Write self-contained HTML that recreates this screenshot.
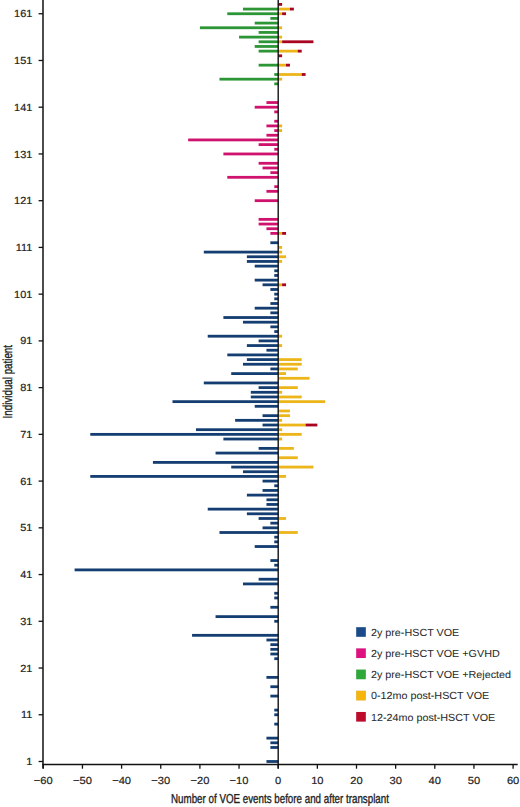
<!DOCTYPE html>
<html><head><meta charset="utf-8"><style>
html,body{margin:0;padding:0;background:#fff;}
body{width:520px;height:807px;overflow:hidden;}
svg{display:block;font-family:"Liberation Sans",sans-serif;text-rendering:geometricPrecision;}
.t{font-size:10.3px;fill:#222;stroke:#222;stroke-width:0.2px;}
.lg{stroke-width:0.05px;fill:#2a2a2a;stroke:#2a2a2a;}
.ttl{font-size:13px;fill:#222;stroke:#222;stroke-width:0.35px;}
</style></head><body>
<svg width="520" height="807" viewBox="0 0 520 807">
<rect width="520" height="807" fill="#fff"/>
<rect x="266.45" y="760.10" width="11.75" height="2.8" fill="#143d72"/><rect x="270.37" y="746.08" width="7.83" height="2.8" fill="#143d72"/><rect x="270.37" y="741.41" width="7.83" height="2.8" fill="#143d72"/><rect x="266.45" y="736.73" width="11.75" height="2.8" fill="#143d72"/><rect x="274.28" y="722.71" width="3.92" height="2.8" fill="#143d72"/><rect x="274.28" y="713.37" width="3.92" height="2.8" fill="#143d72"/><rect x="274.28" y="708.69" width="3.92" height="2.8" fill="#143d72"/><rect x="270.37" y="694.67" width="7.83" height="2.8" fill="#143d72"/><rect x="270.37" y="685.32" width="7.83" height="2.8" fill="#143d72"/><rect x="266.45" y="675.98" width="11.75" height="2.8" fill="#143d72"/><rect x="274.28" y="657.28" width="3.92" height="2.8" fill="#143d72"/><rect x="270.37" y="652.61" width="7.83" height="2.8" fill="#143d72"/><rect x="270.37" y="647.94" width="7.83" height="2.8" fill="#143d72"/><rect x="270.37" y="643.26" width="7.83" height="2.8" fill="#143d72"/><rect x="266.45" y="638.59" width="11.75" height="2.8" fill="#143d72"/><rect x="192.07" y="633.92" width="86.13" height="2.8" fill="#143d72"/><rect x="274.28" y="619.90" width="3.92" height="2.8" fill="#143d72"/><rect x="215.56" y="615.22" width="62.64" height="2.8" fill="#143d72"/><rect x="270.37" y="605.87" width="7.83" height="2.8" fill="#143d72"/><rect x="274.28" y="596.53" width="3.92" height="2.8" fill="#143d72"/><rect x="274.28" y="591.85" width="3.92" height="2.8" fill="#143d72"/><rect x="242.96" y="582.51" width="35.23" height="2.8" fill="#143d72"/><rect x="258.62" y="577.83" width="19.57" height="2.8" fill="#143d72"/><rect x="74.62" y="568.49" width="203.58" height="2.8" fill="#143d72"/><rect x="274.28" y="563.81" width="3.92" height="2.8" fill="#143d72"/><rect x="270.37" y="559.14" width="7.83" height="2.8" fill="#143d72"/><rect x="254.71" y="545.12" width="23.49" height="2.8" fill="#143d72"/><rect x="274.28" y="540.45" width="3.92" height="2.8" fill="#143d72"/><rect x="274.28" y="535.77" width="3.92" height="2.8" fill="#143d72"/><rect x="219.47" y="531.10" width="58.73" height="2.8" fill="#143d72"/><rect x="278.20" y="531.10" width="19.57" height="2.8" fill="#ecb51a"/><rect x="262.54" y="526.43" width="15.66" height="2.8" fill="#143d72"/><rect x="270.37" y="521.75" width="7.83" height="2.8" fill="#143d72"/><rect x="258.62" y="517.08" width="19.57" height="2.8" fill="#143d72"/><rect x="278.20" y="517.08" width="7.83" height="2.8" fill="#ecb51a"/><rect x="246.88" y="512.40" width="31.32" height="2.8" fill="#143d72"/><rect x="207.73" y="507.73" width="70.47" height="2.8" fill="#143d72"/><rect x="266.45" y="503.06" width="11.75" height="2.8" fill="#143d72"/><rect x="266.45" y="498.38" width="11.75" height="2.8" fill="#143d72"/><rect x="246.88" y="493.71" width="31.32" height="2.8" fill="#143d72"/><rect x="262.54" y="489.04" width="15.66" height="2.8" fill="#143d72"/><rect x="274.28" y="484.36" width="3.92" height="2.8" fill="#143d72"/><rect x="262.54" y="479.69" width="15.66" height="2.8" fill="#143d72"/><rect x="90.28" y="475.02" width="187.92" height="2.8" fill="#143d72"/><rect x="278.20" y="475.02" width="7.83" height="2.8" fill="#ecb51a"/><rect x="242.96" y="470.34" width="35.23" height="2.8" fill="#143d72"/><rect x="231.22" y="465.67" width="46.98" height="2.8" fill="#143d72"/><rect x="278.20" y="465.67" width="35.23" height="2.8" fill="#ecb51a"/><rect x="152.92" y="461.00" width="125.28" height="2.8" fill="#143d72"/><rect x="278.20" y="456.32" width="19.57" height="2.8" fill="#ecb51a"/><rect x="215.56" y="451.65" width="62.64" height="2.8" fill="#143d72"/><rect x="258.62" y="446.98" width="19.57" height="2.8" fill="#143d72"/><rect x="278.20" y="446.98" width="15.66" height="2.8" fill="#ecb51a"/><rect x="223.39" y="437.63" width="54.81" height="2.8" fill="#143d72"/><rect x="278.20" y="437.63" width="3.92" height="2.8" fill="#ecb51a"/><rect x="90.28" y="432.96" width="187.92" height="2.8" fill="#143d72"/><rect x="278.20" y="432.96" width="23.49" height="2.8" fill="#ecb51a"/><rect x="195.98" y="428.28" width="82.22" height="2.8" fill="#143d72"/><rect x="278.20" y="428.28" width="3.92" height="2.8" fill="#ecb51a"/><rect x="262.54" y="423.61" width="15.66" height="2.8" fill="#143d72"/><rect x="278.20" y="423.61" width="27.41" height="2.8" fill="#ecb51a"/><rect x="305.61" y="423.61" width="11.75" height="2.8" fill="#a8031f"/><rect x="235.13" y="418.93" width="43.06" height="2.8" fill="#143d72"/><rect x="278.20" y="418.93" width="3.92" height="2.8" fill="#ecb51a"/><rect x="262.54" y="414.26" width="15.66" height="2.8" fill="#143d72"/><rect x="278.20" y="414.26" width="11.75" height="2.8" fill="#ecb51a"/><rect x="278.20" y="409.59" width="11.75" height="2.8" fill="#ecb51a"/><rect x="254.71" y="404.91" width="23.49" height="2.8" fill="#143d72"/><rect x="172.50" y="400.24" width="105.70" height="2.8" fill="#143d72"/><rect x="278.20" y="400.24" width="46.98" height="2.8" fill="#ecb51a"/><rect x="250.79" y="395.57" width="27.41" height="2.8" fill="#143d72"/><rect x="278.20" y="395.57" width="23.49" height="2.8" fill="#ecb51a"/><rect x="250.79" y="390.89" width="27.41" height="2.8" fill="#143d72"/><rect x="278.20" y="390.89" width="3.92" height="2.8" fill="#ecb51a"/><rect x="258.62" y="386.22" width="19.57" height="2.8" fill="#143d72"/><rect x="278.20" y="386.22" width="19.57" height="2.8" fill="#ecb51a"/><rect x="203.81" y="381.55" width="74.39" height="2.8" fill="#143d72"/><rect x="278.20" y="376.87" width="31.32" height="2.8" fill="#ecb51a"/><rect x="231.22" y="372.20" width="46.98" height="2.8" fill="#143d72"/><rect x="278.20" y="372.20" width="7.83" height="2.8" fill="#ecb51a"/><rect x="270.37" y="367.53" width="7.83" height="2.8" fill="#143d72"/><rect x="278.20" y="367.53" width="19.57" height="2.8" fill="#ecb51a"/><rect x="242.96" y="362.85" width="35.23" height="2.8" fill="#143d72"/><rect x="278.20" y="362.85" width="23.49" height="2.8" fill="#ecb51a"/><rect x="246.88" y="358.18" width="31.32" height="2.8" fill="#143d72"/><rect x="278.20" y="358.18" width="23.49" height="2.8" fill="#ecb51a"/><rect x="227.30" y="353.51" width="50.90" height="2.8" fill="#143d72"/><rect x="266.45" y="348.83" width="11.75" height="2.8" fill="#143d72"/><rect x="246.88" y="344.16" width="31.32" height="2.8" fill="#143d72"/><rect x="278.20" y="344.16" width="3.92" height="2.8" fill="#ecb51a"/><rect x="258.62" y="339.49" width="19.57" height="2.8" fill="#143d72"/><rect x="207.73" y="334.81" width="70.47" height="2.8" fill="#143d72"/><rect x="278.20" y="334.81" width="3.92" height="2.8" fill="#ecb51a"/><rect x="274.28" y="330.14" width="3.92" height="2.8" fill="#143d72"/><rect x="270.37" y="325.46" width="7.83" height="2.8" fill="#143d72"/><rect x="242.96" y="320.79" width="35.23" height="2.8" fill="#143d72"/><rect x="223.39" y="316.12" width="54.81" height="2.8" fill="#143d72"/><rect x="270.37" y="311.44" width="7.83" height="2.8" fill="#143d72"/><rect x="254.71" y="306.77" width="23.49" height="2.8" fill="#143d72"/><rect x="270.37" y="302.10" width="7.83" height="2.8" fill="#143d72"/><rect x="274.28" y="297.42" width="3.92" height="2.8" fill="#143d72"/><rect x="274.28" y="292.75" width="3.92" height="2.8" fill="#143d72"/><rect x="270.37" y="288.08" width="7.83" height="2.8" fill="#143d72"/><rect x="262.54" y="283.40" width="15.66" height="2.8" fill="#143d72"/><rect x="278.20" y="283.40" width="3.92" height="2.8" fill="#ecb51a"/><rect x="282.12" y="283.40" width="3.92" height="2.8" fill="#a8031f"/><rect x="254.71" y="278.73" width="23.49" height="2.8" fill="#143d72"/><rect x="274.28" y="274.06" width="3.92" height="2.8" fill="#143d72"/><rect x="274.28" y="269.38" width="3.92" height="2.8" fill="#143d72"/><rect x="254.71" y="264.71" width="23.49" height="2.8" fill="#143d72"/><rect x="246.88" y="260.04" width="31.32" height="2.8" fill="#143d72"/><rect x="278.20" y="260.04" width="3.92" height="2.8" fill="#ecb51a"/><rect x="246.88" y="255.36" width="31.32" height="2.8" fill="#143d72"/><rect x="278.20" y="255.36" width="7.83" height="2.8" fill="#ecb51a"/><rect x="203.81" y="250.69" width="74.39" height="2.8" fill="#143d72"/><rect x="278.20" y="250.69" width="3.92" height="2.8" fill="#ecb51a"/><rect x="278.20" y="246.02" width="3.92" height="2.8" fill="#ecb51a"/><rect x="270.37" y="241.34" width="7.83" height="2.8" fill="#143d72"/><rect x="270.37" y="231.99" width="7.83" height="2.8" fill="#d0126f"/><rect x="278.20" y="231.99" width="3.92" height="2.8" fill="#ecb51a"/><rect x="282.12" y="231.99" width="3.92" height="2.8" fill="#a8031f"/><rect x="266.45" y="227.32" width="11.75" height="2.8" fill="#d0126f"/><rect x="258.62" y="222.65" width="19.57" height="2.8" fill="#d0126f"/><rect x="258.62" y="217.97" width="19.57" height="2.8" fill="#d0126f"/><rect x="254.71" y="199.28" width="23.49" height="2.8" fill="#d0126f"/><rect x="266.45" y="189.93" width="11.75" height="2.8" fill="#d0126f"/><rect x="274.28" y="185.26" width="3.92" height="2.8" fill="#d0126f"/><rect x="227.30" y="175.91" width="50.90" height="2.8" fill="#d0126f"/><rect x="270.37" y="171.24" width="7.83" height="2.8" fill="#d0126f"/><rect x="262.54" y="166.57" width="15.66" height="2.8" fill="#d0126f"/><rect x="258.62" y="161.89" width="19.57" height="2.8" fill="#d0126f"/><rect x="223.39" y="152.55" width="54.81" height="2.8" fill="#d0126f"/><rect x="274.28" y="147.87" width="3.92" height="2.8" fill="#d0126f"/><rect x="258.62" y="143.20" width="19.57" height="2.8" fill="#d0126f"/><rect x="188.15" y="138.52" width="90.05" height="2.8" fill="#d0126f"/><rect x="266.45" y="133.85" width="11.75" height="2.8" fill="#d0126f"/><rect x="274.28" y="129.18" width="3.92" height="2.8" fill="#d0126f"/><rect x="278.20" y="129.18" width="3.92" height="2.8" fill="#ecb51a"/><rect x="266.45" y="124.50" width="11.75" height="2.8" fill="#d0126f"/><rect x="278.20" y="124.50" width="3.92" height="2.8" fill="#ecb51a"/><rect x="274.28" y="119.83" width="3.92" height="2.8" fill="#d0126f"/><rect x="274.28" y="110.48" width="3.92" height="2.8" fill="#d0126f"/><rect x="254.71" y="105.81" width="23.49" height="2.8" fill="#d0126f"/><rect x="266.45" y="101.14" width="11.75" height="2.8" fill="#d0126f"/><rect x="274.28" y="82.44" width="3.92" height="2.8" fill="#2c9637"/><rect x="219.47" y="77.77" width="58.73" height="2.8" fill="#2c9637"/><rect x="278.20" y="77.77" width="3.92" height="2.8" fill="#ecb51a"/><rect x="274.28" y="73.10" width="3.92" height="2.8" fill="#2c9637"/><rect x="278.20" y="73.10" width="23.49" height="2.8" fill="#ecb51a"/><rect x="301.69" y="73.10" width="3.92" height="2.8" fill="#a8031f"/><rect x="258.62" y="63.75" width="19.57" height="2.8" fill="#2c9637"/><rect x="278.20" y="63.75" width="7.83" height="2.8" fill="#ecb51a"/><rect x="286.03" y="63.75" width="3.92" height="2.8" fill="#a8031f"/><rect x="278.20" y="54.40" width="3.92" height="2.8" fill="#a8031f"/><rect x="258.62" y="49.73" width="19.57" height="2.8" fill="#2c9637"/><rect x="278.20" y="49.73" width="19.57" height="2.8" fill="#ecb51a"/><rect x="297.77" y="49.73" width="3.92" height="2.8" fill="#a8031f"/><rect x="254.71" y="45.05" width="23.49" height="2.8" fill="#2c9637"/><rect x="258.62" y="40.38" width="19.57" height="2.8" fill="#2c9637"/><rect x="278.20" y="40.38" width="3.92" height="2.8" fill="#ecb51a"/><rect x="282.12" y="40.38" width="31.32" height="2.8" fill="#a8031f"/><rect x="239.05" y="35.71" width="39.15" height="2.8" fill="#2c9637"/><rect x="278.20" y="35.71" width="3.92" height="2.8" fill="#ecb51a"/><rect x="258.62" y="31.03" width="19.57" height="2.8" fill="#2c9637"/><rect x="199.90" y="26.36" width="78.30" height="2.8" fill="#2c9637"/><rect x="278.20" y="26.36" width="3.92" height="2.8" fill="#ecb51a"/><rect x="254.71" y="21.69" width="23.49" height="2.8" fill="#2c9637"/><rect x="270.37" y="17.01" width="7.83" height="2.8" fill="#2c9637"/><rect x="227.30" y="12.34" width="50.90" height="2.8" fill="#2c9637"/><rect x="278.20" y="12.34" width="3.92" height="2.8" fill="#ecb51a"/><rect x="282.12" y="12.34" width="3.92" height="2.8" fill="#a8031f"/><rect x="242.96" y="7.67" width="35.23" height="2.8" fill="#2c9637"/><rect x="278.20" y="7.67" width="11.75" height="2.8" fill="#ecb51a"/><rect x="289.94" y="7.67" width="3.92" height="2.8" fill="#a8031f"/><rect x="278.20" y="2.99" width="3.92" height="2.8" fill="#a8031f"/>
<line x1="43" y1="0" x2="43" y2="768.5" stroke="#111" stroke-width="1.5"/><line x1="42.3" y1="764.5" x2="517.7" y2="764.5" stroke="#111" stroke-width="1.4"/><line x1="278.2" y1="0" x2="278.2" y2="768.5" stroke="#111" stroke-width="1.4"/><line x1="38.6" y1="761.50" x2="43" y2="761.50" stroke="#111" stroke-width="1.3"/><line x1="38.6" y1="714.76" x2="43" y2="714.76" stroke="#111" stroke-width="1.3"/><line x1="38.6" y1="668.03" x2="43" y2="668.03" stroke="#111" stroke-width="1.3"/><line x1="38.6" y1="621.30" x2="43" y2="621.30" stroke="#111" stroke-width="1.3"/><line x1="38.6" y1="574.56" x2="43" y2="574.56" stroke="#111" stroke-width="1.3"/><line x1="38.6" y1="527.83" x2="43" y2="527.83" stroke="#111" stroke-width="1.3"/><line x1="38.6" y1="481.09" x2="43" y2="481.09" stroke="#111" stroke-width="1.3"/><line x1="38.6" y1="434.36" x2="43" y2="434.36" stroke="#111" stroke-width="1.3"/><line x1="38.6" y1="387.62" x2="43" y2="387.62" stroke="#111" stroke-width="1.3"/><line x1="38.6" y1="340.89" x2="43" y2="340.89" stroke="#111" stroke-width="1.3"/><line x1="38.6" y1="294.15" x2="43" y2="294.15" stroke="#111" stroke-width="1.3"/><line x1="38.6" y1="247.42" x2="43" y2="247.42" stroke="#111" stroke-width="1.3"/><line x1="38.6" y1="200.68" x2="43" y2="200.68" stroke="#111" stroke-width="1.3"/><line x1="38.6" y1="153.95" x2="43" y2="153.95" stroke="#111" stroke-width="1.3"/><line x1="38.6" y1="107.21" x2="43" y2="107.21" stroke="#111" stroke-width="1.3"/><line x1="38.6" y1="60.48" x2="43" y2="60.48" stroke="#111" stroke-width="1.3"/><line x1="38.6" y1="13.74" x2="43" y2="13.74" stroke="#111" stroke-width="1.3"/><line x1="43.30" y1="764.5" x2="43.30" y2="768.7" stroke="#111" stroke-width="1.3"/><line x1="82.45" y1="764.5" x2="82.45" y2="768.7" stroke="#111" stroke-width="1.3"/><line x1="121.60" y1="764.5" x2="121.60" y2="768.7" stroke="#111" stroke-width="1.3"/><line x1="160.75" y1="764.5" x2="160.75" y2="768.7" stroke="#111" stroke-width="1.3"/><line x1="199.90" y1="764.5" x2="199.90" y2="768.7" stroke="#111" stroke-width="1.3"/><line x1="239.05" y1="764.5" x2="239.05" y2="768.7" stroke="#111" stroke-width="1.3"/><line x1="278.20" y1="764.5" x2="278.20" y2="768.7" stroke="#111" stroke-width="1.3"/><line x1="317.35" y1="764.5" x2="317.35" y2="768.7" stroke="#111" stroke-width="1.3"/><line x1="356.50" y1="764.5" x2="356.50" y2="768.7" stroke="#111" stroke-width="1.3"/><line x1="395.65" y1="764.5" x2="395.65" y2="768.7" stroke="#111" stroke-width="1.3"/><line x1="434.80" y1="764.5" x2="434.80" y2="768.7" stroke="#111" stroke-width="1.3"/><line x1="473.95" y1="764.5" x2="473.95" y2="768.7" stroke="#111" stroke-width="1.3"/><line x1="513.10" y1="764.5" x2="513.10" y2="768.7" stroke="#111" stroke-width="1.3"/>
<g class="t"><text transform="translate(32.3,765.10) scale(1.06,1)" text-anchor="end">1</text><text transform="translate(32.3,718.37) scale(1.06,1)" text-anchor="end">11</text><text transform="translate(32.3,671.63) scale(1.06,1)" text-anchor="end">21</text><text transform="translate(32.3,624.90) scale(1.06,1)" text-anchor="end">31</text><text transform="translate(32.3,578.16) scale(1.06,1)" text-anchor="end">41</text><text transform="translate(32.3,531.43) scale(1.06,1)" text-anchor="end">51</text><text transform="translate(32.3,484.69) scale(1.06,1)" text-anchor="end">61</text><text transform="translate(32.3,437.96) scale(1.06,1)" text-anchor="end">71</text><text transform="translate(32.3,391.22) scale(1.06,1)" text-anchor="end">81</text><text transform="translate(32.3,344.49) scale(1.06,1)" text-anchor="end">91</text><text transform="translate(32.3,297.75) scale(1.06,1)" text-anchor="end">101</text><text transform="translate(32.3,251.02) scale(1.06,1)" text-anchor="end">111</text><text transform="translate(32.3,204.28) scale(1.06,1)" text-anchor="end">121</text><text transform="translate(32.3,157.55) scale(1.06,1)" text-anchor="end">131</text><text transform="translate(32.3,110.81) scale(1.06,1)" text-anchor="end">141</text><text transform="translate(32.3,64.08) scale(1.06,1)" text-anchor="end">151</text><text transform="translate(32.3,17.34) scale(1.06,1)" text-anchor="end">161</text></g>
<g class="t"><text transform="translate(43.30,783.5) scale(1.08,1)" text-anchor="middle">−60</text><text transform="translate(82.45,783.5) scale(1.08,1)" text-anchor="middle">−50</text><text transform="translate(121.60,783.5) scale(1.08,1)" text-anchor="middle">−40</text><text transform="translate(160.75,783.5) scale(1.08,1)" text-anchor="middle">−30</text><text transform="translate(199.90,783.5) scale(1.08,1)" text-anchor="middle">−20</text><text transform="translate(239.05,783.5) scale(1.08,1)" text-anchor="middle">−10</text><text transform="translate(278.20,783.5) scale(1.08,1)" text-anchor="middle">0</text><text transform="translate(317.35,783.5) scale(1.08,1)" text-anchor="middle">10</text><text transform="translate(356.50,783.5) scale(1.08,1)" text-anchor="middle">20</text><text transform="translate(395.65,783.5) scale(1.08,1)" text-anchor="middle">30</text><text transform="translate(434.80,783.5) scale(1.08,1)" text-anchor="middle">40</text><text transform="translate(473.95,783.5) scale(1.08,1)" text-anchor="middle">50</text><text transform="translate(513.10,783.5) scale(1.08,1)" text-anchor="middle">60</text></g>
<g class="t lg"><rect x="356.2" y="627.20" width="9.6" height="9.6" fill="#1a4a8a"/><text transform="translate(370.9,635.80) scale(1.046,1)">2y pre-HSCT VOE</text><rect x="356.2" y="648.40" width="9.6" height="9.6" fill="#e0107f"/><text transform="translate(370.9,657.00) scale(1.046,1)">2y pre-HSCT VOE +GVHD</text><rect x="356.2" y="669.60" width="9.6" height="9.6" fill="#2ea838"/><text transform="translate(370.9,678.20) scale(1.046,1)">2y pre-HSCT VOE +Rejected</text><rect x="356.2" y="690.80" width="9.6" height="9.6" fill="#f5b50a"/><text transform="translate(370.9,699.40) scale(1.046,1)">0-12mo post-HSCT VOE</text><rect x="356.2" y="712.00" width="9.6" height="9.6" fill="#c00a2c"/><text transform="translate(370.9,720.60) scale(1.046,1)">12-24mo post-HSCT VOE</text></g>
<text class="ttl" transform="translate(280,803) scale(0.752,1)" text-anchor="middle">Number of VOE events before and after transplant</text>
<text class="ttl" transform="translate(12.2,381.7) rotate(-90) scale(0.752,1)" text-anchor="middle">Individual patient</text>
</svg>
</body></html>
